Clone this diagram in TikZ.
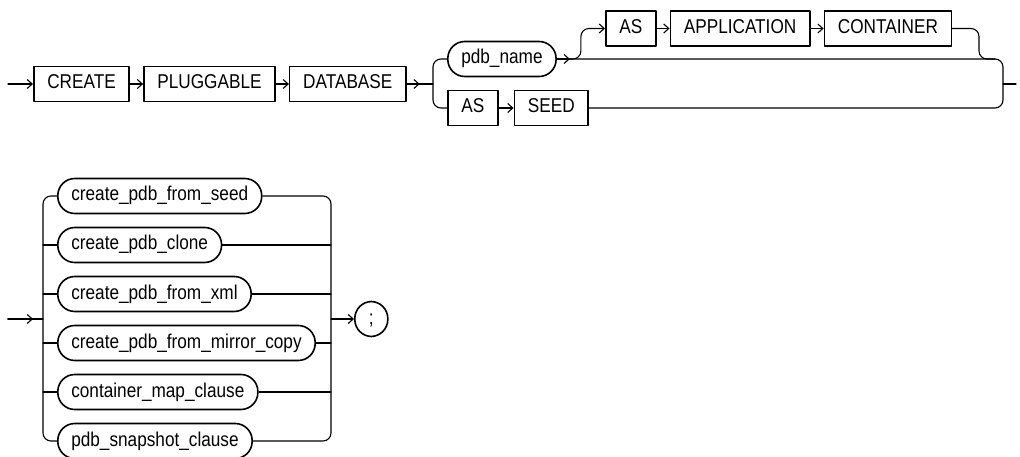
\documentclass[tikz,border=0pt]{standalone}
\usepackage{fontspec}
\setmainfont{Liberation Sans}[FakeStretch=0.86]
\usetikzlibrary{arrows.meta,positioning}
\tikzset{
  kw/.style={draw, line width=1.6pt, minimum height=35pt, inner xsep=13.5pt,
    inner ysep=0pt, text height=14.5pt, text depth=4.5pt,
    font=\fontsize{20}{24}\selectfont},
  nt/.style={kw, rounded corners=17pt},
  rail/.style={line width=1.1pt, rounded corners=8pt},
  >={Straight Barb[length=5pt,width=9pt]}
}

\begin{document}
\begin{tikzpicture}[x=1pt, y=-1pt, line cap=round, line join=round]
  \useasboundingbox (0,0) rectangle (1020,457);

  % First line of the statement
  \coordinate (S1) at (8,84);
  \node[kw, anchor=west] (CR) at (33,84) {CREATE};
  \node[kw, right=13pt of CR] (PL) {PLUGGABLE};
  \node[kw, right=13pt of PL] (DB) {DATABASE};
  \coordinate (F1) at (433,84);
  \node[nt, anchor=west] (PN) at (447,59) {pdb\_name};
  \node[kw, anchor=west] (AS1) at (447,108) {AS};
  \node[kw, right=15pt of AS1] (SD) {SEED};
  \node[kw, anchor=west] (AS2) at (605,28.5) {AS};
  \node[kw, right=13pt of AS2] (AP) {APPLICATION};
  \node[kw, right=13pt of AP] (CT) {CONTAINER};
  \coordinate (R1) at (979,59);
  \coordinate (J1) at (1003,84);
  \coordinate (E1) at (1016,84);

  \draw[rail, ->] (S1) -- (CR);
  \draw[rail, ->] (CR) -- (PL);
  \draw[rail, ->] (PL) -- (DB);
  \draw[rail] (DB) -- (F1);
  \draw[rail, ->] (DB.east) -- ++(13,0);
  \draw[rail] (PN.west) -| (F1) |- (AS1.west);
  \draw[rail, ->] (AS1) -- (SD);
  \draw[rail, ->] (PN.east) -- ++(13,0);
  \draw[rail] (PN.east) -| (J1) |- (SD.east);
  \draw[rail] (J1) -- (E1);

  % optional AS APPLICATION CONTAINER
  \draw[rail, ->] (PN.east) -- ++(24,0) |- (AS2.west);
  \draw[rail, ->] (AS2) -- (AP);
  \draw[rail, ->] (AP) -- (CT);
  \draw[rail] (CT.east) -| (R1) -- ++(16,0);

  % Second line: one of the clauses, then ;
  \coordinate (S2) at (8,319);
  \coordinate (F2) at (43,319);
  \coordinate (J2) at (331,319);
  \foreach \nm/\y/\txt in {N1/196/create\_pdb\_from\_seed,
                           N2/245/create\_pdb\_clone,
                           N3/294/create\_pdb\_from\_xml,
                           N4/343/create\_pdb\_from\_mirror\_copy,
                           N5/392/container\_map\_clause,
                           N6/441/pdb\_snapshot\_clause}
    \node[nt, anchor=west] (\nm) at (57,\y) {\txt};
  \node[nt, anchor=west, minimum width=33pt, inner xsep=0pt] (SC) at (354,319) {;};

  \draw[rail, ->] (S2) -- ++(25,0);
  \draw[rail] (S2) -- (F2);
  \draw[rail] (N1.west) -| (F2) |- (N6.west);
  \draw[rail] (N1.east) -| (J2) |- (N6.east);
  \foreach \nm in {N2,N3,N4,N5} {
    \draw[rail] (F2 |- \nm.west) -- (\nm.west);
    \draw[rail] (\nm.east) -- (J2 |- \nm.east);
  }
  \draw[rail, ->] (J2) -- (SC);
\end{tikzpicture}
\end{document}
